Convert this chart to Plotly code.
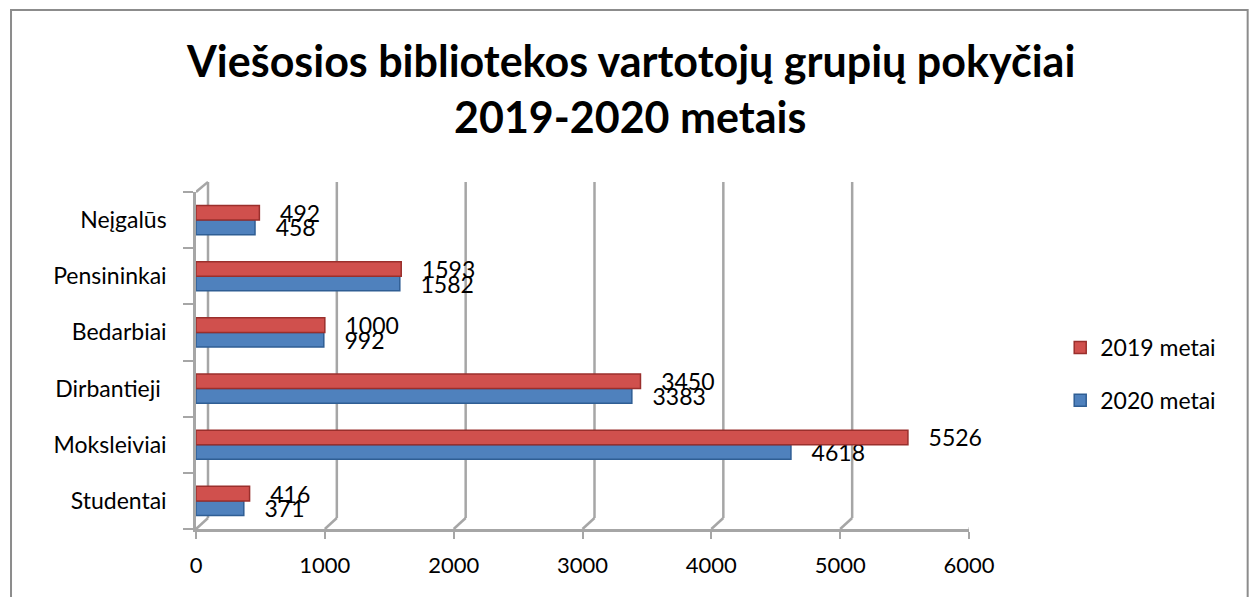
import plotly.graph_objects as go

categories = ["Studentai", "Moksleiviai", "Dirbantieji ", "Bedarbiai", "Pensininkai", "Neįgalūs"]
values_2020 = [371, 4618, 3383, 992, 1582, 458]
values_2019 = [416, 5526, 3450, 1000, 1593, 492]
x_ticks = [0, 1000, 2000, 3000, 4000, 5000, 6000]
title_lines = ["Viešosios bibliotekos vartotojų grupių pokyčiai", "2019-2020 metais"]

FONT = "Lato"
GRID = "#A6A6A6"
DEPTH_PX = 12          # horizontal offset of the 3D back wall, pixels
PLOT_H = 337
DEPTH_Y = 11 / PLOT_H  # vertical offset of the 3D floor, paper units

fig = go.Figure()
fig.add_trace(go.Bar(
    y=categories, x=values_2020, orientation="h", name="2020 metai",
    marker=dict(color="#4F81BD", line=dict(color="#2F5E94", width=1.5)),
    texttemplate="\u00a0\u00a0\u00a0%{x}", textposition="outside", constraintext="none",
    textfont=dict(size=23, color="#000000", family=FONT),
    cliponaxis=False, legendgroup="b", legendrank=2,
))
fig.add_trace(go.Bar(
    y=categories, x=values_2019, orientation="h", name="2019 metai",
    marker=dict(color="#D0504D", line=dict(color="#9A2F2C", width=1.5)),
    texttemplate="\u00a0\u00a0\u00a0%{x}", textposition="outside", constraintext="none",
    textfont=dict(size=23, color="#000000", family=FONT),
    cliponaxis=False, legendgroup="a", legendrank=1,
))

annotations = [
    dict(text=title_lines[0], xref="paper", yref="paper", x=(631 - 197) / 773, y=(529 - 60) / PLOT_H,
         xanchor="center", yanchor="middle", showarrow=False,
         font=dict(family=FONT, size=43, color="#000000", weight="bold")),
    dict(text=title_lines[1], xref="paper", yref="paper", x=(631 - 197) / 773, y=(529 - 117) / PLOT_H,
         xanchor="center", yanchor="middle", showarrow=False,
         font=dict(family=FONT, size=43, color="#000000", weight="bold")),
]

shapes = [dict(
    type="rect", xref="paper", yref="paper",
    x0=-0.2393, x1=1.3605, y0=-0.25, y1=1.5404,
    line=dict(color="#8C8C8C", width=2), fillcolor="rgba(0,0,0,0)", layer="below",
)]
# 3D-style gridlines: back-wall vertical line plus slanted foot to the tick
for t in x_ticks:
    shapes.append(dict(type="line", xref="x", yref="paper", xsizemode="pixel", xanchor=t,
                       x0=DEPTH_PX, x1=DEPTH_PX, y0=DEPTH_Y, y1=1.03,
                       line=dict(color=GRID, width=2.5), layer="below"))
    shapes.append(dict(type="line", xref="x", yref="paper", xsizemode="pixel", xanchor=t,
                       x0=0, x1=DEPTH_PX, y0=0, y1=DEPTH_Y,
                       line=dict(color=GRID, width=2.5), layer="below"))
# top slant of the left wall
shapes.append(dict(type="line", xref="x", yref="paper", xsizemode="pixel", xanchor=x_ticks[0],
                   x0=0, x1=DEPTH_PX, y0=1.0, y1=1.03,
                   line=dict(color=GRID, width=2.5), layer="below"))

fig.update_layout(
    width=1255, height=597,
    paper_bgcolor="white", plot_bgcolor="white",
    barmode="group", bargap=0.48, bargroupgap=0.0,
    margin=dict(l=196, r=286, t=192, b=68),
    font=dict(family=FONT, size=22, color="#000000"),
    annotations=annotations,
    shapes=shapes,
    legend=dict(
        x=1.118, y=0.46, xanchor="left", yanchor="middle",
        traceorder="grouped", tracegroupgap=20,
        font=dict(size=23, family=FONT), itemwidth=30,
        bgcolor="rgba(0,0,0,0)",
    ),
    xaxis=dict(
        range=[0, 6000], tickvals=x_ticks, ticktext=[str(t) for t in x_ticks],
        showgrid=False,
        showline=True, linecolor=GRID, linewidth=2.5,
        ticks="outside", ticklen=7, tickcolor=GRID, tickwidth=2,
        ticklabelstandoff=8,
        tickfont=dict(size=22, family=FONT), zeroline=False,
    ),
    yaxis=dict(
        showline=True, linecolor=GRID, linewidth=2.5,
        ticks="outside", ticklen=10, tickcolor=GRID, tickwidth=2,
        tickson="boundaries", ticklabelstandoff=22,
        tickfont=dict(size=23, family=FONT), showgrid=False,
    ),
)

fig.write_html("out.html", config={"displayModeBar": False},
               post_script="document.body.style.margin='0';document.body.style.overflow='hidden';")
